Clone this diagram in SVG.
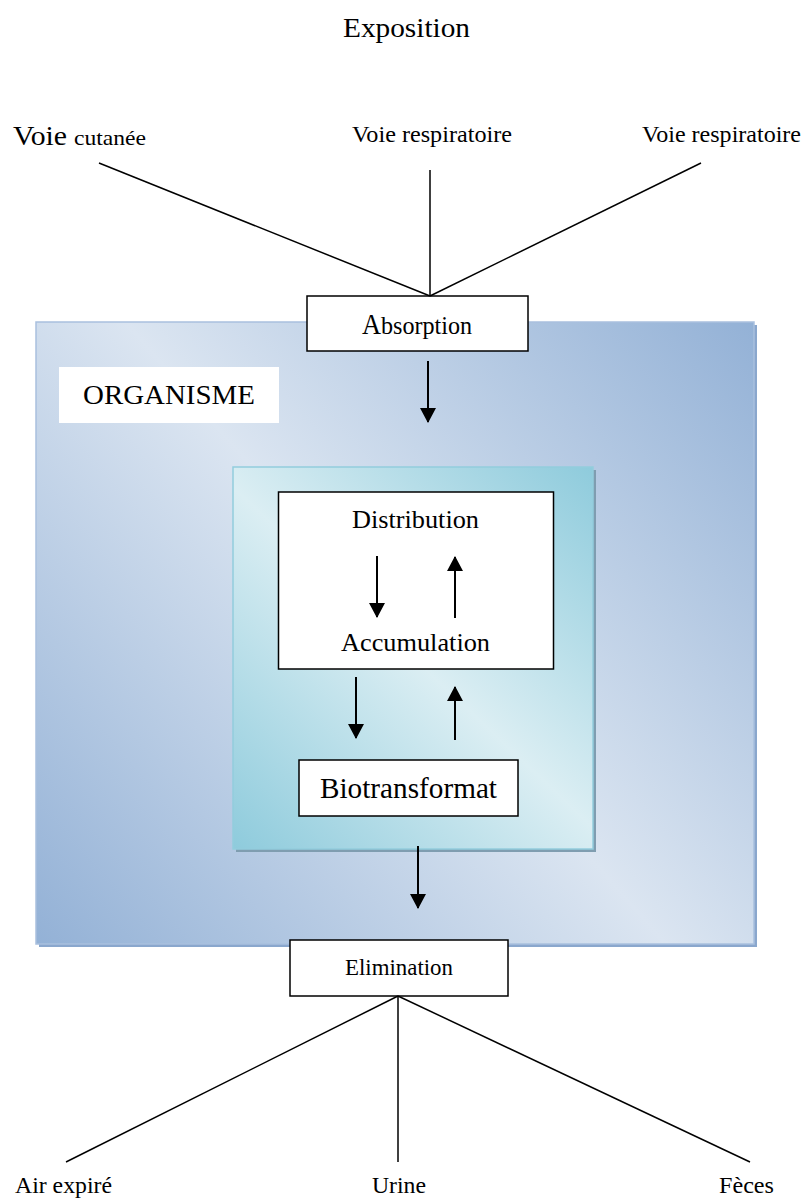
<svg xmlns="http://www.w3.org/2000/svg" width="805" height="1199" viewBox="0 0 805 1199">
<style>
text{font-family:"Liberation Serif","Times New Roman",serif;fill:#000}
.box{fill:#fff;stroke:#000;stroke-width:1.5}
.ln{stroke:#000;stroke-width:1.5;fill:none}
.ar{stroke:#000;stroke-width:2;fill:none;marker-end:url(#ah)}
</style>
<defs>
<marker id="ah" markerUnits="userSpaceOnUse" markerWidth="15" markerHeight="16" refX="14" refY="8" orient="auto">
<path d="M0,0 L15,8 L0,16 z" fill="#000"/>
</marker>
<linearGradient id="gOut" gradientUnits="userSpaceOnUse" x1="755" y1="322" x2="37" y2="945">
<stop offset="0" stop-color="#93b1d6"/>
<stop offset="0.5" stop-color="#dbe5f1"/>
<stop offset="1" stop-color="#93b1d6"/>
</linearGradient>
<linearGradient id="gIn" gradientUnits="userSpaceOnUse" x1="594" y1="467" x2="233" y2="849">
<stop offset="0" stop-color="#8ecbdc"/>
<stop offset="0.5" stop-color="#dbeef3"/>
<stop offset="1" stop-color="#8ecbdc"/>
</linearGradient>
</defs>

<g id="organisme">
<rect x="39" y="325" width="718" height="622" fill="#8aa7cd"/>
<rect x="36" y="322" width="718" height="622" fill="url(#gOut)" stroke="#a9c0de" stroke-width="1.5"/>
</g>
<g id="organisme-label">
<rect x="59" y="367" width="220" height="56" fill="#fff"/>
<text x="169" y="404" font-size="28" text-anchor="middle" textLength="172" lengthAdjust="spacingAndGlyphs">ORGANISME</text>
</g>
<g id="inner">
<rect x="236" y="470" width="360" height="382" fill="#7f9db0"/>
<rect x="233" y="467" width="360" height="382" fill="url(#gIn)" stroke="#93cddd" stroke-width="1.5"/>
</g>
<g id="distribution-accumulation">
<rect class="box" x="278.5" y="492" width="275" height="177"/>
<text x="415.5" y="528" font-size="25" text-anchor="middle" textLength="127" lengthAdjust="spacingAndGlyphs">Distribution</text>
<text x="415.5" y="651" font-size="25" text-anchor="middle" textLength="149" lengthAdjust="spacingAndGlyphs">Accumulation</text>
</g>
<g id="biotransformation">
<rect class="box" x="299" y="760" width="219" height="56"/>
<text x="408.5" y="798" font-size="29" text-anchor="middle" textLength="177" lengthAdjust="spacingAndGlyphs">Biotransformat</text>
</g>
<g id="absorption">
<rect class="box" x="307" y="296" width="221" height="55"/>
<text x="362" y="334" font-size="29" textLength="19" lengthAdjust="spacingAndGlyphs">A</text>
<text x="381" y="334" font-size="25" textLength="91" lengthAdjust="spacingAndGlyphs">bsorption</text>
</g>
<g id="elimination">
<rect class="box" x="290" y="940" width="218" height="56"/>
<text x="399" y="975" font-size="23" text-anchor="middle" textLength="108" lengthAdjust="spacingAndGlyphs">Elimination</text>
</g>
<g id="exposition">
<text x="406.5" y="37" font-size="28" text-anchor="middle" textLength="127" lengthAdjust="spacingAndGlyphs">Exposition</text>
</g>
<g id="voie-cutanee">
<text x="13" y="145" font-size="28" textLength="54" lengthAdjust="spacingAndGlyphs">Voie</text>
<text x="74" y="145" font-size="22" textLength="72" lengthAdjust="spacingAndGlyphs">cutanée</text>
</g>
<g id="voie-respiratoire-1">
<text x="432" y="142" font-size="24" text-anchor="middle" textLength="160" lengthAdjust="spacingAndGlyphs">Voie respiratoire</text>
</g>
<g id="voie-respiratoire-2">
<text x="721.5" y="142" font-size="24" text-anchor="middle" textLength="159" lengthAdjust="spacingAndGlyphs">Voie respiratoire</text>
</g>
<g id="air-expire"><text x="63.5" y="1193" font-size="24" text-anchor="middle" textLength="97" lengthAdjust="spacingAndGlyphs">Air expiré</text></g>
<g id="urine"><text x="399" y="1193" font-size="24" text-anchor="middle" textLength="54" lengthAdjust="spacingAndGlyphs">Urine</text></g>
<g id="feces"><text x="746.5" y="1193" font-size="24" text-anchor="middle" textLength="55" lengthAdjust="spacingAndGlyphs">Fèces</text></g>

<g id="connectors">
<line class="ln" x1="99" y1="163" x2="430" y2="296"/>
<line class="ln" x1="430" y1="170" x2="430" y2="296"/>
<line class="ln" x1="701" y1="163" x2="430" y2="296"/>
<line class="ar" x1="428" y1="361" x2="428" y2="422"/>
<line class="ar" x1="377" y1="556" x2="377" y2="617"/>
<line class="ar" x1="455" y1="618" x2="455" y2="557"/>
<line class="ar" x1="356" y1="677" x2="356" y2="738"/>
<line class="ar" x1="455" y1="740" x2="455" y2="687"/>
<line class="ar" x1="418" y1="846" x2="418" y2="908"/>
<line class="ln" x1="398" y1="996" x2="66" y2="1162"/>
<line class="ln" x1="398" y1="996" x2="398" y2="1162"/>
<line class="ln" x1="398" y1="996" x2="750" y2="1162"/>
</g>
</svg>
